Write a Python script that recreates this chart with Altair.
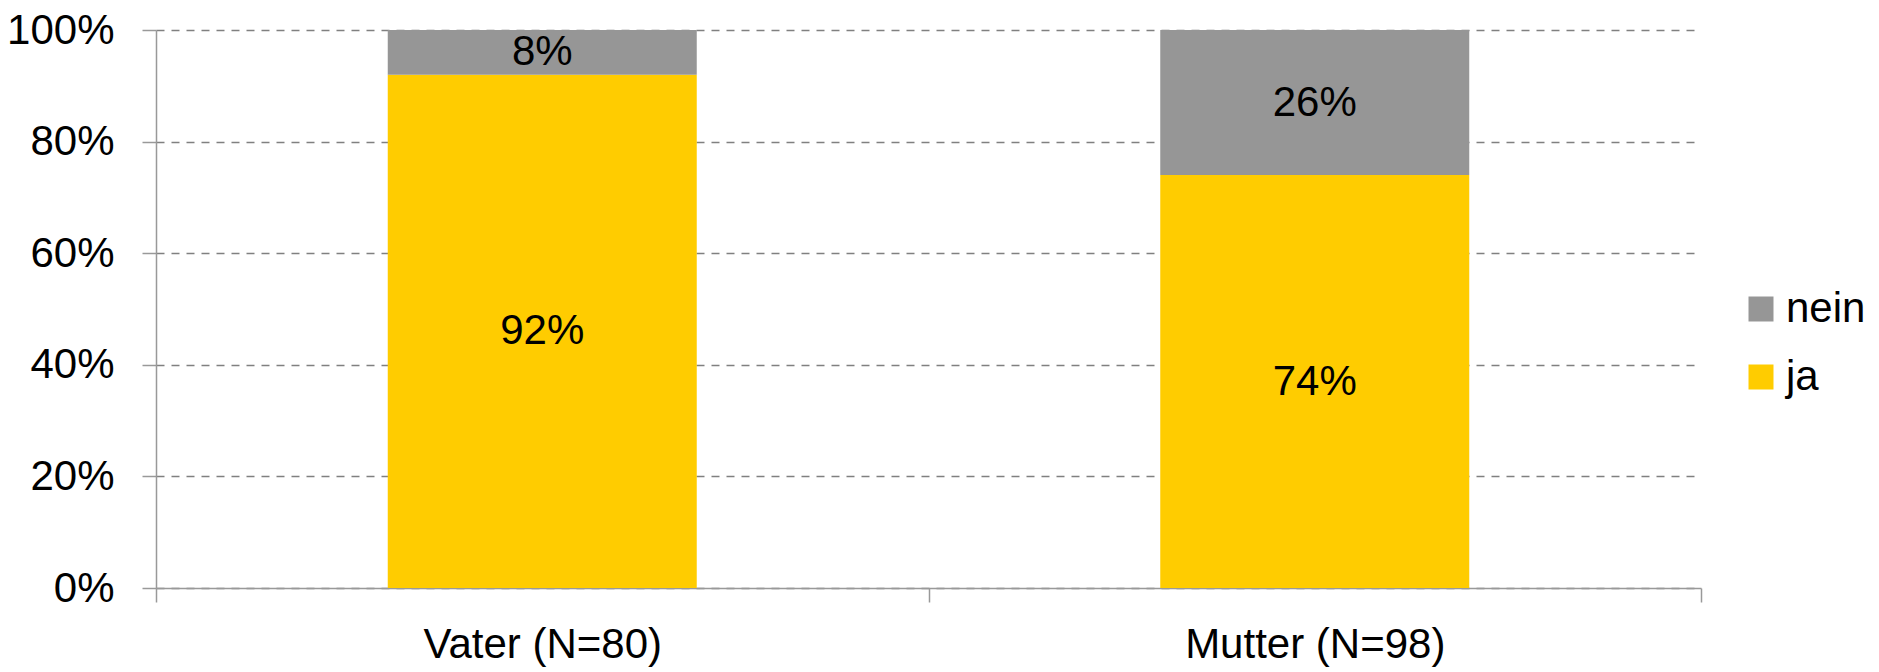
import altair as alt
import pandas as pd

categories = ["Vater (N=80)", "Mutter (N=98)"]
answers = ["ja", "nein"]
ja_values = [92, 74]
nein_values = [8, 26]
y_ticks = [0, 20, 40, 60, 80, 100]

rows = []
for c, j, n in zip(categories, ja_values, nein_values):
    rows.append({"cat": c, "answer": "ja", "value": j, "ord": 0})
    rows.append({"cat": c, "answer": "nein", "value": n, "ord": 1})
df = pd.DataFrame(rows)

FONT = "Liberation Sans Narrow, Arial Narrow, Liberation Sans, Arial, sans-serif"
FS = 42

base = alt.Chart(df).transform_stack(
    stack="value", groupby=["cat"], as_=["y0", "y1"],
    sort=[alt.SortField("ord", order="ascending")]
).transform_calculate(mid="(datum.y0 + datum.y1) / 2", lbl="datum.value + '%'")

xenc = alt.X("cat:N", sort=categories, title=None,
             scale=alt.Scale(paddingInner=0, paddingOuter=0),
             axis=alt.Axis(labelAngle=0, labelFontSize=FS, labelFont=FONT, labelColor="black",
                           labelLimit=0,
                           tickBand="extent", tickSize=14, tickColor="#999999", tickWidth=1.5,
                           domainColor="#999999", domainWidth=1.5, labelPadding=22, grid=False))

bars = base.mark_bar(width=alt.RelativeBandSize(0.4)).encode(
    x=xenc,
    y=alt.Y("y0:Q", scale=alt.Scale(domain=[0, 100]), title=None,
            axis=alt.Axis(values=y_ticks, labelExpr="datum.value + '%'", labelFontSize=FS,
                          labelFont=FONT, labelColor="black", tickSize=14, tickColor="#999999",
                          tickWidth=1.5, domainColor="#999999", domainWidth=1.5, labelPadding=28,
                          grid=True, gridColor="#808080", gridDash=[8, 7], gridWidth=1.5)),
    y2="y1:Q",
    color=alt.Color("answer:N", scale=alt.Scale(domain=["nein", "ja"], range=["#969696", "#FFCC00"]),
                    legend=alt.Legend(title=None, orient="none", legendX=1584, legendY=258,
                                      symbolType="square", symbolSize=625, symbolStrokeWidth=0,
                                      labelFontSize=FS, labelFont=FONT, labelColor="black",
                                      rowPadding=26, symbolOffset=0, labelOffset=4)),
)

texts = base.mark_text(fontSize=FS, font=FONT, color="black").encode(
    x=alt.X("cat:N", sort=categories),
    y=alt.Y("mid:Q"),
    text="lbl:N",
)

chart = alt.layer(bars, texts).properties(
    width=1545, height=558,
    background="white",
    autosize=alt.AutoSizeParams(type="none"),
    padding={"left": 156, "top": 30, "right": 178, "bottom": 84},
).configure_view(strokeWidth=0, strokeOpacity=0)

chart.save("out.html", embed_options={"renderer": "svg", "actions": False})
